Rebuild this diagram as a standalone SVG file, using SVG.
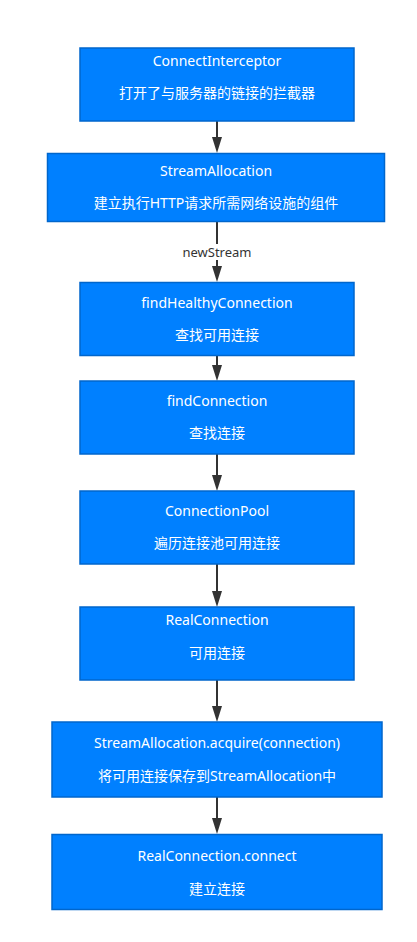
<svg xmlns="http://www.w3.org/2000/svg" width="417" height="942" viewBox="0 0 417 942">
<defs>
<style>
.box{fill:#0080ff;stroke:#0066cc;stroke-width:1.5}
.t{font-family:"Noto Sans","Noto Sans CJK SC",sans-serif;font-size:14px;fill:#ffffff;text-anchor:middle}
.c{stroke:#333333;stroke-width:2;fill:none}
.lbl{font-family:"Noto Sans","Noto Sans CJK SC",sans-serif;font-size:13px;fill:#333333;text-anchor:middle}
</style>
<marker id="arr" viewBox="0 0 16 10" refX="6" refY="5" markerWidth="16" markerHeight="10" markerUnits="userSpaceOnUse" orient="auto">
<path d="M0,0 L16,5 L0,10 z" fill="#333333"/>
</marker>
</defs>
<rect width="417" height="942" fill="#ffffff"/>
<g id="connectors">
<line class="c" x1="217" y1="121" x2="217" y2="143" marker-end="url(#arr)"/>
<line class="c" x1="217" y1="222" x2="217" y2="272" marker-end="url(#arr)"/>
<rect x="180" y="244" width="74" height="16" fill="#ffffff"/>
<text class="lbl" x="217" y="257">newStream</text>
<line class="c" x1="217" y1="356" x2="217" y2="371" marker-end="url(#arr)"/>
<line class="c" x1="217" y1="454" x2="217" y2="481" marker-end="url(#arr)"/>
<line class="c" x1="217" y1="564" x2="217" y2="597" marker-end="url(#arr)"/>
<line class="c" x1="217" y1="680" x2="217" y2="712" marker-end="url(#arr)"/>
<line class="c" x1="217" y1="797" x2="217" y2="824" marker-end="url(#arr)"/>
</g>
<g id="n1">
<rect class="box" x="80" y="48" width="274" height="73"/>
<text class="t" x="217" y="66">ConnectInterceptor</text>
<text class="t" x="217" y="98">打开了与服务器的链接的拦截器</text>
</g>
<g id="n2">
<rect class="box" x="47.5" y="153.5" width="337" height="68"/>
<text class="t" x="216" y="176">StreamAllocation</text>
<text class="t" x="216" y="208">建立执行HTTP请求所需网络设施的组件</text>
</g>
<g id="n3">
<rect class="box" x="80" y="282.5" width="274" height="73"/>
<text class="t" x="217" y="308">findHealthyConnection</text>
<text class="t" x="217" y="340">查找可用连接</text>
</g>
<g id="n4">
<rect class="box" x="80" y="381" width="274" height="73"/>
<text class="t" x="217" y="406">findConnection</text>
<text class="t" x="217" y="438">查找连接</text>
</g>
<g id="n5">
<rect class="box" x="80" y="491" width="274" height="73"/>
<text class="t" x="217" y="516">ConnectionPool</text>
<text class="t" x="217" y="548">遍历连接池可用连接</text>
</g>
<g id="n6">
<rect class="box" x="80" y="607" width="274" height="73"/>
<text class="t" x="217" y="625">RealConnection</text>
<text class="t" x="217" y="658">可用连接</text>
</g>
<g id="n7">
<rect class="box" x="52" y="722" width="330" height="75"/>
<text class="t" x="217" y="748">StreamAllocation.acquire(connection)</text>
<text class="t" x="217" y="781">将可用连接保存到StreamAllocation中</text>
</g>
<g id="n8">
<rect class="box" x="52" y="834.5" width="330" height="75"/>
<text class="t" x="217" y="861">RealConnection.connect</text>
<text class="t" x="217" y="894">建立连接</text>
</g>
</svg>
